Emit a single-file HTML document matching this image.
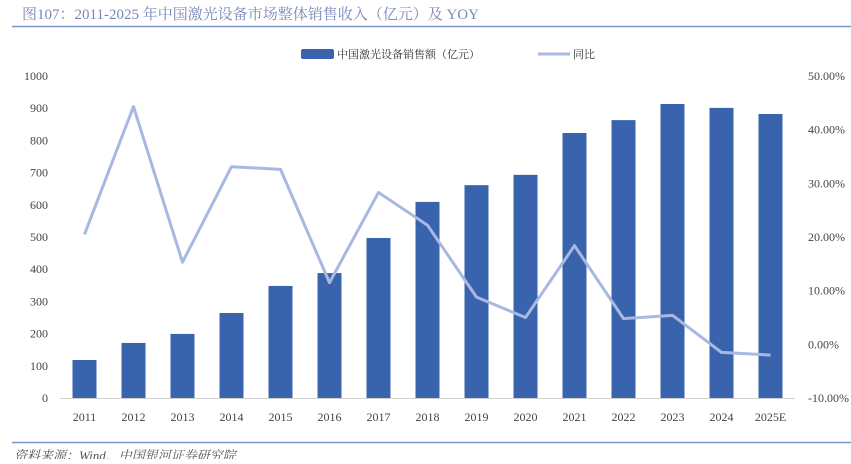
<!DOCTYPE html>
<html><head><meta charset="utf-8"><style>
body{margin:0;background:#fff;width:851px;height:459px;overflow:hidden;font-family:"Liberation Serif","Noto Serif CJK SC",serif}
svg text{font-family:"Liberation Serif","Noto Serif CJK SC",serif}
</style></head><body>
<svg id="c" width="851" height="459">
<text x="22" y="19" font-size="15" fill="#7a86b8">图107：2011-2025 年中国激光设备市场整体销售收入（亿元）及 YOY</text>
<line x1="12" y1="26.5" x2="851" y2="26.5" stroke="#7d97cc" stroke-width="1.5"/>
<g>
<rect x="301" y="49" width="33" height="10" rx="2" fill="#3a63ad"/>
<text x="337" y="58" font-size="11" fill="#333">中国激光设备销售额（亿元）</text>
<line x1="538" y1="54" x2="570" y2="54" stroke="#a7b9e2" stroke-width="3"/>
<text x="573" y="58" font-size="11" fill="#333">同比</text>
</g>
<g id="plot"></g>
<line x1="12" y1="442.5" x2="851" y2="442.5" stroke="#7d97cc" stroke-width="1.5"/>
<text x="14" y="460" font-size="13" font-style="italic" fill="#555">资料来源：Wind，中国银河证券研究院</text>
</svg>
<script>
const categories=["2011","2012","2013","2014","2015","2016","2017","2018","2019","2020","2021","2022","2023","2024","2025E"];
const sales=[118,171,199,264,348,388,497,609,661,693,823,863,913,901,882];
const yoy=[20.5,44.3,15.3,33.1,32.6,11.5,28.3,22.2,8.8,5.0,18.4,4.8,5.4,-1.5,-2.0];
const leftTicks=[0,100,200,300,400,500,600,700,800,900,1000];
const rightTicks=[-10,0,10,20,30,40,50];
const NS="http://www.w3.org/2000/svg";
const g=document.getElementById('plot');
const x0=60,x1=795,yb=398,yt=76;
const step=(x1-x0)/categories.length;
const xs=i=>x0+step*(i+0.5);
const yl=v=>yb-(v/1000)*(yb-yt);
const yr=v=>yb-((v+10)/60)*(yb-yt);
function mk(t,a){const e=document.createElementNS(NS,t);for(const k in a)e.setAttribute(k,a[k]);g.appendChild(e);return e;}
leftTicks.forEach(v=>{const t=mk('text',{x:48,y:yl(v)+4,'text-anchor':'end','font-size':12,fill:'#444'});t.textContent=v;

});
rightTicks.forEach(v=>{const t=mk('text',{x:808,y:yr(v)+4,'font-size':12,fill:'#444'});t.textContent=v.toFixed(2)+'%';

});
sales.forEach((v,i)=>{const r=mk('rect',{x:xs(i)-12,y:yl(v),width:24,height:yb-yl(v),fill:'#3a63ad'});


const t=mk('text',{x:xs(i),y:421,'text-anchor':'middle','font-size':12,fill:'#444'});t.textContent=categories[i];

});
const ax=mk('line',{x1:x0,y1:yb+0.5,x2:x1,y2:yb+0.5,stroke:'#d0d0d0'});


const p=mk('polyline',{points:yoy.map((v,i)=>xs(i)+','+yr(v)).join(' '),fill:'none',stroke:'#a7b9e2','stroke-width':3,'stroke-linejoin':'round'});


</script>
</body></html>
